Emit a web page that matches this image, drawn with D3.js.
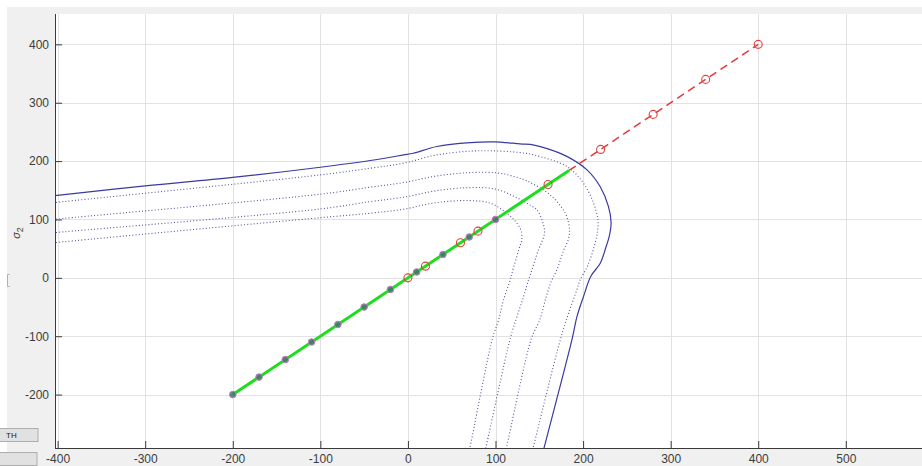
<!DOCTYPE html>
<html>
<head>
<meta charset="utf-8">
<script src="https://cdn.jsdelivr.net/npm/d3@7"></script>
<style>
  html, body { margin: 0; padding: 0; background: #ffffff; }
  svg { display: block; }
  text { font-family: "Liberation Sans", Arial, sans-serif; }
</style>
</head>
<body>
<svg id="fig" width="922" height="466"></svg>
<script>
// Axis ticks
const xTicks = [-400, -300, -200, -100, 0, 100, 200, 300, 400, 500];
const yTicks = [-200, -100, 0, 100, 200, 300, 400];

// Outer yield boundary (solid) in the sigma1-sigma2 plane
const boundary = [
  [-420, 138.5], [-403, 141], [-300, 157.5], [-200, 172], [-100, 189.5], [-43, 201],
  [-5, 210.6], [6, 213.5], [33, 225], [71, 231.7], [98, 233], [128, 229.5], [144, 227.5],
  [160, 221], [182, 207.7], [204.5, 185], [219.6, 156], [229, 122], [232, 94], [230, 72],
  [226, 52], [219.6, 25], [209, 3], [200.5, -32], [193, -66.5], [187.3, -106], [156, -288],
  [154, -300]
];

// Inner contour levels (dotted)
const level1 = [
  [-420, 126], [-403, 129], [-100, 176.4], [-43, 187.8], [-5, 196.4], [33, 210.6], [71, 217],
  [98, 217.5], [128, 214.6], [143.5, 210.6], [181.6, 190.6], [200.5, 162], [212, 128], [217, 99],
  [216.5, 80], [213, 55], [205, 20], [196.5, -4], [193, -20], [183.4, -60.7], [174, -106],
  [143.5, -288], [141.5, -300]
];
const level2 = [
  [-420, 97.5], [-403, 100.4], [-100, 143.3], [-43, 155.3], [-5, 163.2], [33, 174.6], [71, 180.3],
  [102, 179.8], [120, 174], [136, 166], [162.5, 142], [179.7, 110.7], [184.5, 82], [183, 65],
  [178, 48], [170, 13.5], [164, -5], [158, -32], [150.5, -72], [141, -104], [113, -288], [111, -300]
];
const level3 = [
  [-420, 75], [-403, 77.5], [-100, 118], [-43, 130.6], [-5, 138.1], [33, 149.4], [71, 154.6],
  [100, 152], [122, 139], [138, 126], [147.3, 116.4], [154, 95], [156, 78], [153, 62],
  [149, 47.8], [141.6, 13.5], [137.7, -3.6], [132, -32], [124.5, -66.5], [117, -103],
  [89.4, -288], [87.5, -300]
];
const level4 = [
  [-420, 57.5], [-403, 60.3], [-100, 103], [-43, 110.7], [-5, 117.6], [33, 129], [71, 132.3],
  [94, 128], [110, 114], [122, 98], [129, 82], [130, 65], [126.5, 47.8], [118.8, 7.9],
  [116.8, -3.6], [109.2, -37.9], [103.5, -72.2], [96.5, -104], [71.2, -288], [69.3, -300]
];

// Loading path (sigma1 = sigma2)
const pathElastic = [[-200, -200], [184, 184]];
const pathBeyond = [[184, 184], [400, 400]];

// Load steps along the path
const stepsA = [-200, -170, -140, -110, -80, -50, -20, 10, 40, 70, 100];
const stepsB = [0, 20, 60, 80, 160, 220, 280, 340, 400];

const svg = d3.select("#fig");
const W = 922, H = 466;

// figure background
svg.append("rect").attr("x", 0).attr("y", 0).attr("width", W).attr("height", H).attr("fill", "#ffffff");
svg.append("rect").attr("x", 7).attr("y", 7).attr("width", W - 7).attr("height", H - 7).attr("fill", "#f0f0f0");

const pL = 55, pT = 14, pR = 922, pB = 448;
svg.append("rect").attr("x", pL).attr("y", pT).attr("width", pR - pL).attr("height", pB - pT).attr("fill", "#ffffff");

const x = d3.scaleLinear().domain([-403, 587]).range([pL, pR]);
const y = d3.scaleLinear().domain([-291.5, 452]).range([pB, pT]);

svg.append("defs").append("clipPath").attr("id", "plotclip")
  .append("rect").attr("x", pL).attr("y", pT).attr("width", pR - pL).attr("height", pB - pT);

// grid
const grid = svg.append("g").attr("stroke", "#e2e2e2").attr("stroke-width", 1);
xTicks.forEach(v => grid.append("line")
  .attr("x1", Math.round(x(v)) + 0.5).attr("x2", Math.round(x(v)) + 0.5)
  .attr("y1", pT).attr("y2", pB));
yTicks.forEach(v => grid.append("line")
  .attr("x1", pL).attr("x2", pR)
  .attr("y1", Math.round(y(v)) + 0.5).attr("y2", Math.round(y(v)) + 0.5));

const plot = svg.append("g").attr("clip-path", "url(#plotclip)");
const line = d3.line().x(d => x(d[0])).y(d => y(d[1])).curve(d3.curveCatmullRom.alpha(0.5));
const straight = d3.line().x(d => x(d[0])).y(d => y(d[1]));

[level1, level2, level3, level4].forEach(c => {
  plot.append("path").attr("d", line(c)).attr("fill", "none")
    .attr("stroke", "#55559a").attr("stroke-width", 1.1)
    .attr("stroke-dasharray", "1,2.2");
});
plot.append("path").attr("d", line(boundary)).attr("fill", "none")
  .attr("stroke", "#3a3aa0").attr("stroke-width", 1.2);

plot.append("path").attr("d", straight(pathElastic)).attr("fill", "none")
  .attr("stroke", "#1edc1e").attr("stroke-width", 3);
plot.append("path").attr("d", straight(pathBeyond)).attr("fill", "none")
  .attr("stroke", "#e23a3a").attr("stroke-width", 1.5).attr("stroke-dasharray", "8,5");

plot.selectAll("circle.a").data(stepsA).enter().append("circle").attr("class", "a")
  .attr("cx", d => x(d)).attr("cy", d => y(d)).attr("r", 3.3)
  .attr("fill", "#3d7466").attr("fill-opacity", 0.85)
  .attr("stroke", "#c07ac0").attr("stroke-width", 1);
plot.selectAll("circle.b").data(stepsB).enter().append("circle").attr("class", "b")
  .attr("cx", d => x(d)).attr("cy", d => y(d)).attr("r", 4)
  .attr("fill", "none").attr("stroke", "#e04040").attr("stroke-width", 1.1);

// axes
const axisColor = "#3a3a3a";
const fmt = d => String(d);
const gx = svg.append("g").attr("transform", `translate(0,${pB})`)
  .call(d3.axisBottom(x).tickValues(xTicks).tickFormat(fmt).tickSize(-7).tickSizeOuter(0).tickPadding(6));
const gy = svg.append("g").attr("transform", `translate(${pL},0)`)
  .call(d3.axisLeft(y).tickValues(yTicks).tickFormat(fmt).tickSize(-7).tickSizeOuter(0).tickPadding(6));
[gx, gy].forEach(g => {
  g.select(".domain").attr("stroke", axisColor);
  g.selectAll(".tick line").attr("stroke", axisColor);
  g.selectAll(".tick text").attr("fill", "#3c3c3c").attr("font-size", 12)
    .attr("font-family", "'Liberation Sans', Arial, sans-serif");
});
gy.select(".domain").attr("d", `M0.5,${pT}V${pB}`);
gx.select(".domain").attr("d", `M${pL},0.5H${pR}`);

// y-axis title: sigma_2
const yl = svg.append("text").attr("transform", "translate(20,233) rotate(-90)")
  .attr("font-size", 11).attr("fill", "#3c3c3c").attr("text-anchor", "middle");
yl.append("tspan").attr("font-style", "italic").text("σ");
yl.append("tspan").attr("dy", 3).attr("font-size", 9).text("2");

// side controls
svg.append("path").attr("d", "M9.5,274.5 H7.5 V286.5 H9.5").attr("fill", "none").attr("stroke", "#b0b0b0");
svg.append("rect").attr("x", -1).attr("y", 428.5).attr("width", 39).attr("height", 13)
  .attr("fill", "#e1e1e1").attr("stroke", "#adadad");
svg.append("text").attr("x", 6).attr("y", 438).attr("font-size", 8).attr("fill", "#222").text("TH");
svg.append("rect").attr("x", -1).attr("y", 452.5).attr("width", 38).attr("height", 13)
  .attr("fill", "#e1e1e1").attr("stroke", "#adadad");
</script>
</body>
</html>
